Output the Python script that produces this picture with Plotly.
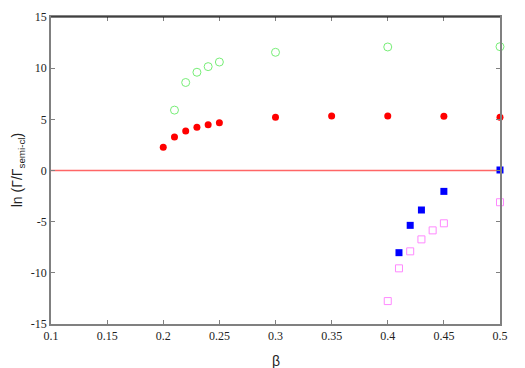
import plotly.graph_objects as go

# Data
beta_green = [0.21, 0.22, 0.23, 0.24, 0.25, 0.30, 0.40, 0.50]
ln_green = [5.9, 8.6, 9.6, 10.15, 10.6, 11.55, 12.07, 12.1]

beta_red = [0.20, 0.21, 0.22, 0.23, 0.24, 0.25, 0.30, 0.35, 0.40, 0.45, 0.50]
ln_red = [2.27, 3.27, 3.86, 4.22, 4.48, 4.67, 5.2, 5.33, 5.33, 5.3, 5.2]

beta_blue = [0.41, 0.42, 0.43, 0.45, 0.50]
ln_blue = [-8.03, -5.36, -3.86, -2.04, 0.05]

beta_pink = [0.40, 0.41, 0.42, 0.43, 0.44, 0.45, 0.50]
ln_pink = [-12.76, -9.56, -7.9, -6.73, -5.85, -5.16, -3.1]

ref_line_x = [0.1, 0.5]
ref_line_y = [0, 0]

x_ticks = [0.1, 0.15, 0.2, 0.25, 0.3, 0.35, 0.4, 0.45, 0.5]
x_tick_labels = ["0.1", "0.15", "0.2", "0.25", "0.3", "0.35", "0.4", "0.45", "0.5"]
y_ticks = [-15, -10, -5, 0, 5, 10, 15]
y_tick_labels = ["-15", "-10", "-5", "0", "5", "10", "15"]

fig = go.Figure()

fig.add_trace(go.Scatter(x=ref_line_x, y=ref_line_y, mode="lines",
                         line=dict(color="#ff6666", width=1.5), showlegend=False,
                         cliponaxis=False))
fig.add_trace(go.Scatter(x=beta_green, y=ln_green, mode="markers",
                         marker=dict(symbol="circle-open", size=8, color="#77ee77",
                                     line=dict(width=1, color="#77ee77")),
                         showlegend=False, cliponaxis=False))
fig.add_trace(go.Scatter(x=beta_red, y=ln_red, mode="markers",
                         marker=dict(symbol="circle", size=7, color="#ff0000"),
                         showlegend=False, cliponaxis=False))
fig.add_trace(go.Scatter(x=beta_pink, y=ln_pink, mode="markers",
                         marker=dict(symbol="square-open", size=7, color="#ff88ff",
                                     line=dict(width=1, color="#ff88ff")),
                         showlegend=False, cliponaxis=False))
fig.add_trace(go.Scatter(x=beta_blue, y=ln_blue, mode="markers",
                         marker=dict(symbol="square", size=7, color="#0000ff"),
                         showlegend=False, cliponaxis=False))

serif = "Liberation Serif"
sans = "Liberation Sans"
tick_font = dict(family=serif, size=12, color="#222222")

fig.update_layout(
    width=517, height=360,
    margin=dict(l=43, r=25, t=9, b=44, autoexpand=False),
    paper_bgcolor="white", plot_bgcolor="white",
    font=dict(family=serif),
    xaxis=dict(range=[0.1, 0.5], tickvals=x_ticks, ticktext=x_tick_labels,
               showgrid=False, zeroline=False, showline=True, linecolor="#808080",
               linewidth=1.5, mirror="ticks", ticks="inside", ticklen=4,
               tickcolor="#808080", tickfont=tick_font, automargin=False),
    yaxis=dict(range=[-15, 15], tickvals=y_ticks, ticktext=y_tick_labels,
               showgrid=False, zeroline=False, showline=True, linecolor="#808080",
               linewidth=1.5, mirror="ticks", ticks="inside", ticklen=4,
               tickcolor="#808080", tickfont=tick_font, automargin=False),
    annotations=[
        dict(text="β", xref="paper", yref="paper", x=0.5, y=-0.12,
             xanchor="center", yanchor="middle", showarrow=False,
             font=dict(family=sans, size=14, color="#222222")),
        dict(text="ln (Γ/Γ<sub>semi-cl</sub>)", xref="paper", yref="paper",
             x=-0.074, y=0.5, xanchor="center", yanchor="middle", textangle=-90,
             showarrow=False, font=dict(family=sans, size=14, color="#222222")),
    ],
)

# top border in black
fig.add_shape(type="line", xref="paper", yref="paper", x0=0, x1=1, y0=1, y1=1,
              line=dict(color="black", width=1.2))

fig.write_html("out.html")
